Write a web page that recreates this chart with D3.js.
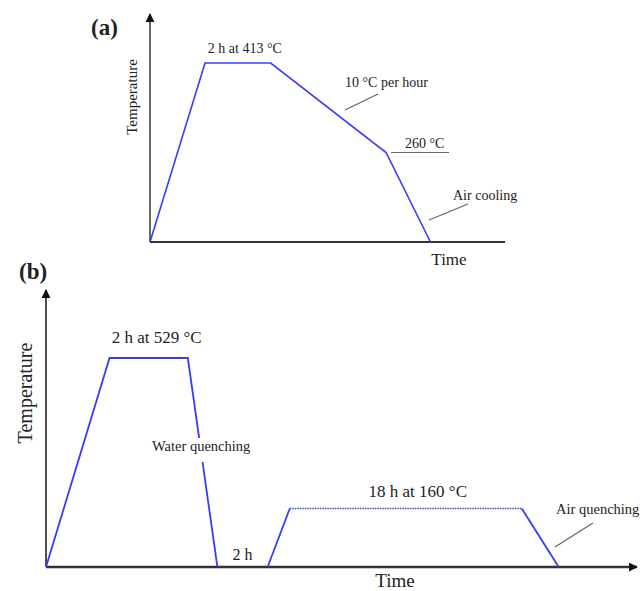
<!DOCTYPE html>
<html>
<head>
<meta charset="utf-8">
<script src="https://cdn.jsdelivr.net/npm/d3@7"></script>
<style>
  body { margin: 0; background: #fff; }
  text { font-family: "Liberation Serif", "Times New Roman", serif; fill: #222; }
</style>
</head>
<body>
<div id="viz"></div>
<script>
// schematic heat-treatment schedules (relative time, relative temperature %)
const timeA = [0, 1.55, 3.4, 6.65, 7.9];
const tempA = [0, 100, 100, 50, 0];

const timeB = [0, 2.15, 4.8, 5.8, 7.5, 8.25, 16.1, 17.35];
const tempB = [0, 100, 100, 0, 0, 28, 28, 0];

const W = 641, H = 591;
const blue = "#3a3aff";

const svg = d3.select("#viz").append("svg")
    .attr("width", W).attr("height", H);

const defs = svg.append("defs");
defs.append("marker")
    .attr("id", "arrow")
    .attr("viewBox", "0 0 10 10")
    .attr("refX", 9).attr("refY", 5)
    .attr("markerWidth", 9).attr("markerHeight", 9)
    .attr("markerUnits", "userSpaceOnUse")
    .attr("orient", "auto")
    .append("path")
    .attr("d", "M0,0 L10,5 L0,10 Z")
    .attr("fill", "#111");

const line = d3.line().x(d => d[0]).y(d => d[1]);

// ---------- panel (a) ----------
const xA = d3.scaleLinear().domain([0, 10]).range([150, 505]);
const yA = d3.scaleLinear().domain([0, 100]).range([242, 63]);
const gA = svg.append("g");

gA.append("line")
    .attr("x1", xA(0)).attr("y1", yA(0)).attr("x2", xA(0)).attr("y2", 14)
    .attr("stroke", "#333").attr("stroke-width", 1.5).attr("marker-end", "url(#arrow)");
gA.append("line")
    .attr("x1", xA(0)).attr("y1", yA(0)).attr("x2", xA(10)).attr("y2", yA(0))
    .attr("stroke", "#333").attr("stroke-width", 2.2);

gA.append("path")
    .attr("d", line(timeA.map((t, i) => [xA(t), yA(tempA[i])])))
    .attr("fill", "none").attr("stroke", blue).attr("stroke-width", 1.6);

gA.append("text").attr("x", 91).attr("y", 35)
    .attr("font-size", 23).attr("font-weight", "bold").text("(a)");
gA.append("text")
    .attr("transform", "translate(137,97) rotate(-90)")
    .attr("text-anchor", "middle").attr("font-size", 15).text("Temperature");
gA.append("text").attr("x", (xA(timeA[1]) + xA(timeA[2])) / 2 + 7).attr("y", 53)
    .attr("text-anchor", "middle").attr("font-size", 14).text("2 h at 413 °C");
gA.append("text").attr("x", 345).attr("y", 87)
    .attr("font-size", 14).text("10 °C per hour");
gA.append("line").attr("x1", 345).attr("y1", 110).attr("x2", 378).attr("y2", 94)
    .attr("stroke", "#666").attr("stroke-width", 1.2);
gA.append("text").attr("x", 405).attr("y", 148)
    .attr("font-size", 14).text("260 °C");
gA.append("line").attr("x1", xA(timeA[3]) + 5).attr("y1", yA(tempA[3]))
    .attr("x2", 449).attr("y2", yA(tempA[3]))
    .attr("stroke", "#666").attr("stroke-width", 1.2);
gA.append("text").attr("x", 453).attr("y", 200)
    .attr("font-size", 14).text("Air cooling");
gA.append("line").attr("x1", 429).attr("y1", 220).attr("x2", 468).attr("y2", 204)
    .attr("stroke", "#666").attr("stroke-width", 1.2);
gA.append("text").attr("x", 449).attr("y", 265)
    .attr("text-anchor", "middle").attr("font-size", 17).text("Time");

// ---------- panel (b) ----------
const xB = d3.scaleLinear().domain([0, 20]).range([46, 637]);
const yB = d3.scaleLinear().domain([0, 100]).range([567, 358]);
const gB = svg.append("g");

gB.append("line")
    .attr("x1", xB(0)).attr("y1", yB(0)).attr("x2", xB(0)).attr("y2", 290)
    .attr("stroke", "#222").attr("stroke-width", 1.6).attr("marker-end", "url(#arrow)");
gB.append("line")
    .attr("x1", xB(0)).attr("y1", yB(0)).attr("x2", xB(20)).attr("y2", yB(0))
    .attr("stroke", "#333").attr("stroke-width", 2.4).attr("marker-end", "url(#arrow)");

const ptsB = timeB.map((t, i) => [xB(t), yB(tempB[i])]);
gB.append("path").attr("d", line(ptsB.slice(0, 4)))
    .attr("fill", "none").attr("stroke", blue).attr("stroke-width", 1.8);
gB.append("path").attr("d", line(ptsB.slice(4, 6)))
    .attr("fill", "none").attr("stroke", blue).attr("stroke-width", 1.8);
gB.append("path").attr("d", line(ptsB.slice(5, 7)))
    .attr("fill", "none").attr("stroke", blue).attr("stroke-width", 1.5)
    .attr("stroke-dasharray", "1.5,1");
gB.append("path").attr("d", line(ptsB.slice(6, 8)))
    .attr("fill", "none").attr("stroke", blue).attr("stroke-width", 1.8);

gB.append("text").attr("x", 19).attr("y", 279)
    .attr("font-size", 23).attr("font-weight", "bold").text("(b)");
gB.append("text")
    .attr("transform", "translate(32,393) rotate(-90)")
    .attr("text-anchor", "middle").attr("font-size", 20).text("Temperature");
gB.append("text").attr("x", (xB(timeB[1]) + xB(timeB[2])) / 2 + 8).attr("y", 343)
    .attr("text-anchor", "middle").attr("font-size", 17).text("2 h at 529 °C");

// white backing breaks the quench line behind its label
gB.append("rect").attr("x", 150).attr("y", 438).attr("width", 108).attr("height", 24)
    .attr("fill", "#fff");
gB.append("text").attr("x", 152).attr("y", 451)
    .attr("font-size", 14.5).text("Water quenching");

gB.append("text").attr("x", (xB(timeB[3]) + xB(timeB[4])) / 2).attr("y", 560)
    .attr("text-anchor", "middle").attr("font-size", 16).text("2 h");
gB.append("text").attr("x", (xB(timeB[5]) + xB(timeB[6])) / 2 + 12).attr("y", 497)
    .attr("text-anchor", "middle").attr("font-size", 17).text("18 h at 160 °C");
gB.append("text").attr("x", 556).attr("y", 514)
    .attr("font-size", 14.5).text("Air quenching");
gB.append("line").attr("x1", 555).attr("y1", 547).attr("x2", 593).attr("y2", 523)
    .attr("stroke", "#666").attr("stroke-width", 1.2);
gB.append("text").attr("x", 395).attr("y", 587)
    .attr("text-anchor", "middle").attr("font-size", 19).text("Time");
</script>
</body>
</html>
